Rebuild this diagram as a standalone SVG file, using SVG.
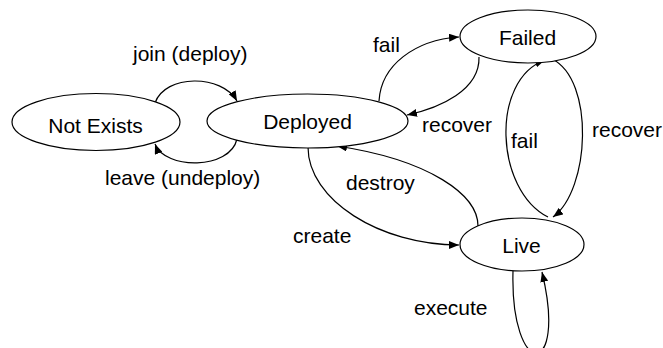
<svg xmlns="http://www.w3.org/2000/svg" width="663" height="348" viewBox="0 0 663 348">
  <style>
    .state { fill: #ffffff; stroke: #000000; stroke-width: 1.2; }
    .edge { fill: none; stroke: #000000; stroke-width: 1.2; marker-end: url(#arrow); }
    text { font-family: "Liberation Sans", Arial, sans-serif; font-size: 21px; fill: #000000; }
    .name { text-anchor: middle; }
  </style>
  <defs>
    <marker id="arrow" viewBox="0 0 10 8" refX="10" refY="4" markerWidth="10" markerHeight="8" markerUnits="userSpaceOnUse" orient="auto">
      <path d="M0,0 L10,4 L0,8 Z" fill="#000000"/>
    </marker>
  </defs>

  <g id="connectors">
    <!-- join (deploy): Not Exists -> Deployed -->
    <path class="edge" d="M155,103 C165,74 222,74 237,101"/>
    <!-- leave (undeploy): Deployed -> Not Exists -->
    <path class="edge" d="M237,139 C230,170 165,170 155,144"/>
    <!-- fail: Deployed -> Failed -->
    <path class="edge" d="M379,101 C381,65 415,40 459,37"/>
    <!-- recover: Failed -> Deployed -->
    <path class="edge" d="M479,57 C480,90 440,108 407,115"/>
    <!-- fail: Live -> Failed -->
    <path class="edge" d="M548,217 C495,190 490,80 545,60"/>
    <!-- recover: Failed -> Live -->
    <path class="edge" d="M552,59 C595,80 590,190 553,217"/>
    <!-- create: Deployed -> Live -->
    <path class="edge" d="M308,147 C308,200 380,245 459,245"/>
    <!-- destroy: Live -> Deployed -->
    <path class="edge" d="M478,226 C478,195 430,160 337,146"/>
    <!-- execute: Live -> Live -->
    <path class="edge" d="M513,271 C510,380 568,380 542,272"/>
  </g>

  <g id="not-exists">
    <ellipse class="state" cx="96" cy="122" rx="84" ry="28.5"/>
    <text class="name" x="95.5" y="132.5">Not Exists</text>
  </g>
  <g id="deployed">
    <ellipse class="state" cx="307.5" cy="121" rx="100.5" ry="27"/>
    <text class="name" x="307.5" y="128.5">Deployed</text>
  </g>
  <g id="failed">
    <ellipse class="state" cx="528" cy="36.5" rx="68" ry="26.5"/>
    <text class="name" x="527.5" y="44.5">Failed</text>
  </g>
  <g id="live">
    <ellipse class="state" cx="522" cy="244.5" rx="62" ry="26.5"/>
    <text class="name" x="521.5" y="252.5">Live</text>
  </g>

  <g id="labels">
    <text x="133" y="61">join (deploy)</text>
    <text x="105" y="185">leave (undeploy)</text>
    <text x="373" y="52">fail</text>
    <text x="422" y="132">recover</text>
    <text x="511" y="148">fail</text>
    <text x="592" y="137">recover</text>
    <text x="346" y="190">destroy</text>
    <text x="293" y="243">create</text>
    <text x="414" y="315">execute</text>
  </g>
</svg>
